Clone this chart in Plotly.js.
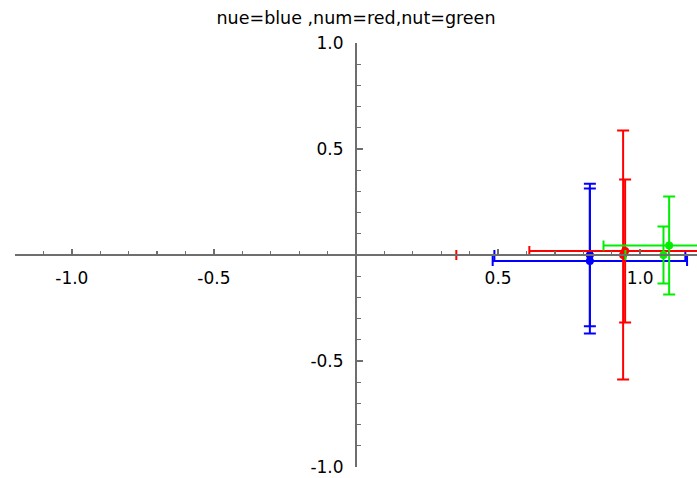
<!DOCTYPE html>
<html>
<head>
<meta charset="utf-8">
<script src="https://cdn.plot.ly/plotly-3.0.1.min.js"></script>
<style>html,body{margin:0;padding:0;background:#fff;}#chart{width:697px;height:478px;}</style>
</head>
<body>
<div id="chart"></div>
<script>
// nue = blue
var blueX = [0.823, 0.823];
var blueY = [0.000, -0.028];
var blueErr = [0.336, 0.342];
// num = red
var redX = [0.940, 0.947];
var redY = [0.000, 0.019];
var redErr = [0.587, 0.337];
// nut = green
var greenX = [1.102, 1.082];
var greenY = [0.045, 0.000];
var greenErr = [0.231, 0.134];

var xTickVals = [-1.0, -0.5, 0.5, 1.0];
var xTickText = ["-1.0", "-0.5", "0.5", "1.0"];
var yTickVals = [-1.0, -0.5, 0.5, 1.0];
var yTickText = ["-1.0", "-0.5", "0.5", "1.0"];
var titleText = "nue=blue ,num=red,nut=green";

function series(x, y, err, color) {
  return {
    type: 'scatter', mode: 'markers', x: x, y: y,
    marker: {color: color, size: 8, symbol: 'circle'},
    error_x: {type: 'data', array: err, symmetric: true, color: color, thickness: 2, width: 5},
    error_y: {type: 'data', array: err, symmetric: true, color: color, thickness: 2, width: 6},
    showlegend: false, hoverinfo: 'skip'
  };
}

var data = [
  series(blueX, blueY, blueErr, '#0000ff'),
  series(redX, redY, redErr, '#ff0000'),
  series(greenX, greenY, greenErr, '#00ee00')
];

var axisColor = '#6e6e6e';
var tickFont = {family: 'DejaVu Sans', size: 17, color: '#000'};

var layout = {
  width: 697, height: 478,
  margin: {l: 15, r: 0, t: 43, b: 11, pad: 0},
  paper_bgcolor: '#fff', plot_bgcolor: '#fff',
  title: {text: titleText, font: {family: 'DejaVu Sans', size: 17.5, color: '#000'},
          x: 0.5, xref: 'paper', y: 0.962, yref: 'container', yanchor: 'middle'},
  xaxis: {
    range: [-1.2, 1.2], anchor: 'free', position: 0.5,
    showline: true, linecolor: axisColor, linewidth: 2,
    showgrid: false, zeroline: false,
    tickmode: 'array', tickvals: xTickVals, ticktext: xTickText,
    ticks: 'inside', ticklen: 5, tickwidth: 1.4, tickcolor: axisColor,
    ticklabelstandoff: 8,
    minor: {tickmode: 'linear', tick0: 0, dtick: 0.1, ticks: 'inside', ticklen: 3, tickwidth: 1.2, tickcolor: axisColor, showgrid: false},
    tickfont: tickFont, layer: 'above traces', fixedrange: true
  },
  yaxis: {
    range: [-1.0, 1.0], anchor: 'free', position: 0.5,
    showline: true, linecolor: axisColor, linewidth: 2,
    showgrid: false, zeroline: false,
    tickmode: 'array', tickvals: yTickVals, ticktext: yTickText,
    ticks: 'inside', ticklen: 6, tickwidth: 1.4, tickcolor: axisColor,
    ticklabelstandoff: 8,
    minor: {tickmode: 'linear', tick0: 0, dtick: 0.1, ticks: 'inside', ticklen: 4, tickwidth: 1.2, tickcolor: axisColor, showgrid: false},
    tickfont: tickFont, layer: 'above traces', fixedrange: true
  }
};

Plotly.newPlot('chart', data, layout, {displayModeBar: false, staticPlot: true});
</script>
</body>
</html>
